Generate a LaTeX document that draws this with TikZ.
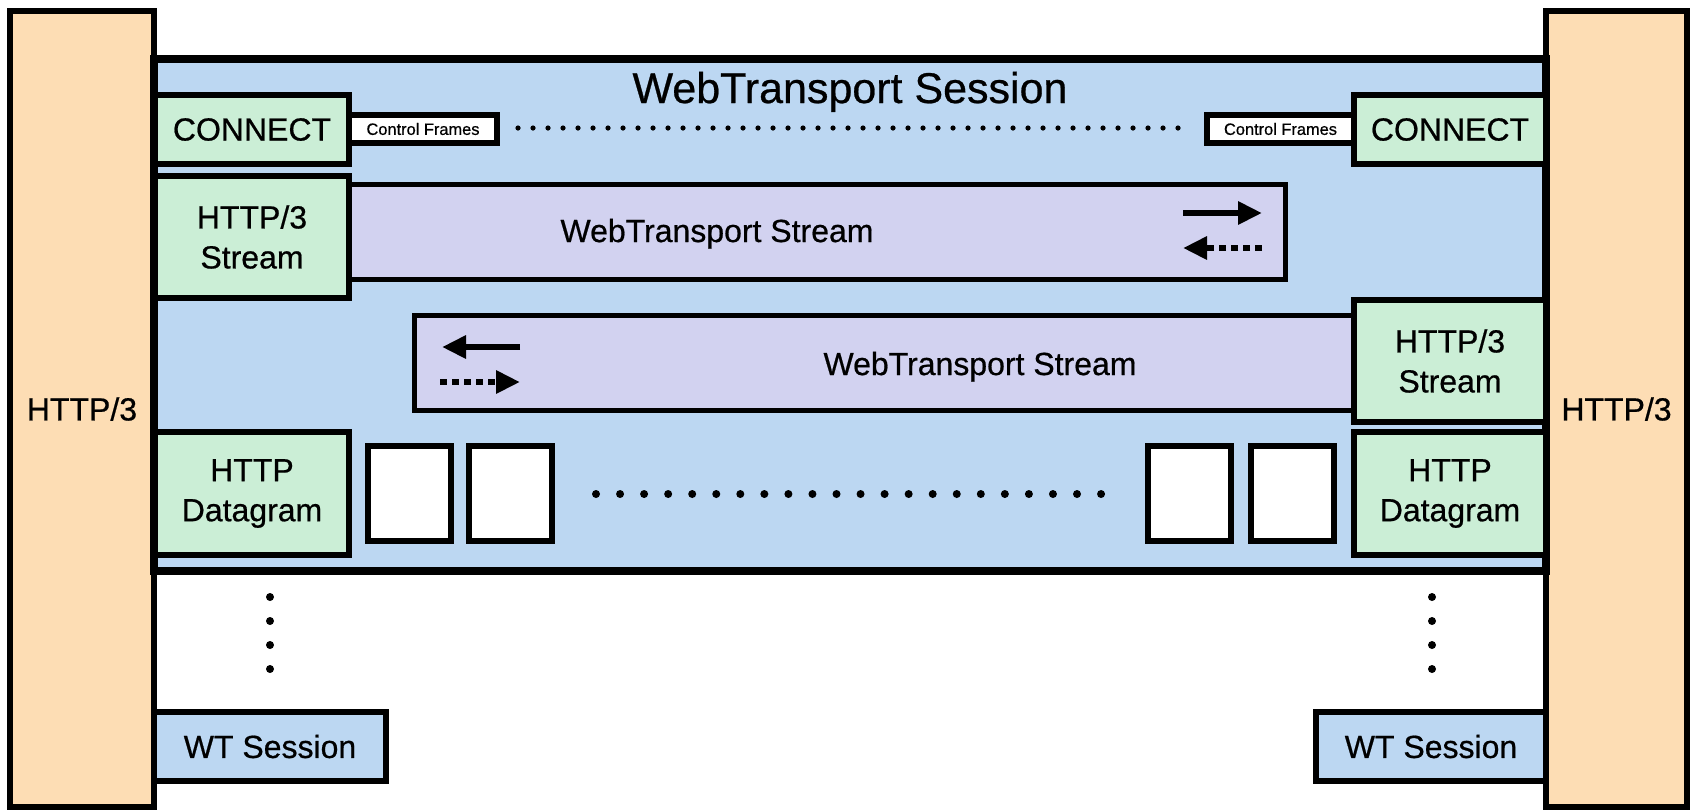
\documentclass[tikz,border=0pt]{standalone}
\usepackage{fontspec}
\setmainfont{Liberation Sans}[FakeBold=0.6]
\usetikzlibrary{arrows.meta}

\definecolor{peach}{HTML}{FDDDB4}
\definecolor{sessblue}{HTML}{BCD7F2}
\definecolor{mint}{HTML}{CBEED6}
\definecolor{lilac}{HTML}{D2D2F0}

\begin{document}
\begin{tikzpicture}[x=0.5pt,y=-0.5pt,
  colbox/.style={draw=black,fill=peach,line width=3pt},
  sessbox/.style={draw=black,fill=sessblue,line width=4pt},
  greenbox/.style={draw=black,fill=mint,line width=3pt},
  streambox/.style={draw=black,fill=lilac,line width=2.5pt},
  framebox/.style={draw=black,fill=white,line width=3pt},
  wtbox/.style={draw=black,fill=sessblue,line width=3pt},
  lbl/.style={font=\fontsize{16pt}{20pt}\selectfont,align=center,inner sep=0pt},
  smalllbl/.style={font=\fontsize{8.2pt}{10pt}\selectfont,inner sep=0pt},
  titlelbl/.style={font=\fontsize{21.5pt}{26pt}\selectfont,inner sep=0pt},
  solidarr/.style={line width=3pt,-{Triangle[length=12pt,width=11pt]}},
  dotarr/.style={line width=3pt,dash pattern=on 3.5pt off 2.5pt,-{Triangle[length=12pt,width=11pt]}}]
\useasboundingbox (0,0) rectangle (1690,811);
% HTTP/3 columns
\draw[colbox](10,11)rectangle(154,807)node[midway,lbl](h3L){HTTP/3};
\draw[colbox](1546,11)rectangle(1687,807)node[midway,lbl](h3R){HTTP/3};
% session
\draw[sessbox](154,59)rectangle(1546,571);
\node[titlelbl,anchor=base](title)at(850,103){WebTransport Session};
% CONNECT and control frames
\draw[greenbox](155,95)rectangle(349,164)node[midway,lbl](connL){CONNECT};
\draw[framebox](349,115)rectangle(497,143)node[midway,smalllbl](ctrlL){Control Frames};
\draw[framebox](1207,115)rectangle(1354,143)node[midway,smalllbl](ctrlR){Control Frames};
\draw[greenbox](1354,95)rectangle(1546,164)node[midway,lbl](connR){CONNECT};
\foreach \i in {0,...,44}
  \fill({518+15*\i},128)circle[radius=1.3pt];
% streams
\draw[streambox](349,184.5)rectangle(1285.5,279.5);
\node[lbl,anchor=base](ws1)at(717,242){WebTransport Stream};
\draw[greenbox](155,176)rectangle(349,298)node[midway,lbl](h3sL){HTTP/3\\Stream};
\draw[streambox](414.5,315.5)rectangle(1354,410.5);
\node[lbl,anchor=base](ws2)at(980,375){WebTransport Stream};
\draw[greenbox](1354,300)rectangle(1546,422)node[midway,lbl](h3sR){HTTP/3\\Stream};
\coordinate(a1)at(1183,213);\coordinate(b1)at(1262,213);
\coordinate(a2)at(1262,248);\coordinate(b2)at(1183,248);
\coordinate(a3)at(520,347);\coordinate(b3)at(442,347);
\coordinate(a4)at(440,382);\coordinate(b4)at(520,382);
\draw[solidarr](a1)--(b1);
\draw[dotarr](a2)--(b2);
\draw[solidarr](a3)--(b3);
\draw[dotarr](a4)--(b4);
% datagrams
\draw[greenbox](155,432)rectangle(349,555)node[midway,lbl](dgL){HTTP\\Datagram};
\draw[greenbox](1354,432)rectangle(1546,555)node[midway,lbl](dgR){HTTP\\Datagram};
\foreach \x in {368,469,1148,1251}
  \draw[framebox](\x,446)rectangle(\x+83,541);
\foreach \i in {0,...,21}
  \fill({596+24.05*\i},494)circle[radius=2pt];
% other sessions
\foreach \y in {597,621,645,669}{
  \fill(270,\y)circle[radius=2pt];
  \fill(1432,\y)circle[radius=2pt];}
\draw[wtbox](154,712)rectangle(386,781)node[midway,lbl](wtL){WT Session};
\draw[wtbox](1316,712)rectangle(1546,781)node[midway,lbl](wtR){WT Session};
\end{tikzpicture}
\end{document}
